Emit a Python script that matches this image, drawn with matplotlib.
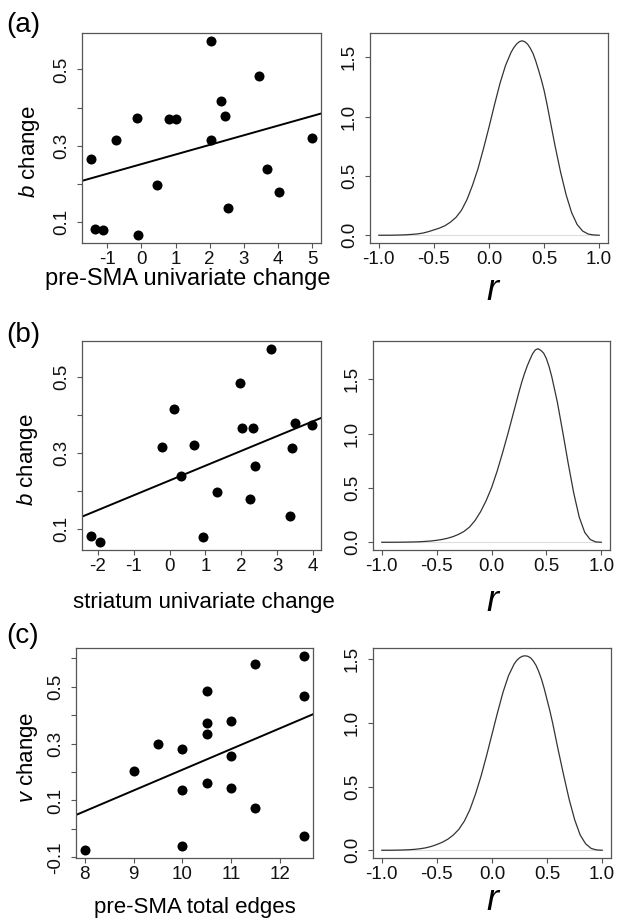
import matplotlib
matplotlib.use("Agg")
import matplotlib.pyplot as plt
import numpy as np

plt.rcParams['font.family'] = ['Liberation Sans', 'DejaVu Sans']
plt.rcParams['axes.unicode_minus'] = False
plt.rcParams['mathtext.fontset'] = 'custom'
plt.rcParams['mathtext.it'] = 'Liberation Sans:italic'
plt.rcParams['mathtext.rm'] = 'Liberation Sans'

# ------------------------------------------------------------------------------
# Data

# (a) pre-SMA univariate change vs b change
a_x = [2.03, 3.43, 2.32, 2.45, -0.14, 0.81, 1.00, -0.74, 2.04, 5.00, -1.48, 3.68, 0.46, 4.03, 2.55, -1.37, -1.12, -0.10]
a_y = [0.575, 0.484, 0.417, 0.379, 0.374, 0.369, 0.369, 0.315, 0.315, 0.321, 0.265, 0.239, 0.198, 0.180, 0.136, 0.082, 0.080, 0.066]

# (b) striatum univariate change vs b change
b_x = [2.82, 1.97, 0.13, 2.02, 2.33, 3.49, 3.97, -0.22, 0.68, 3.41, 0.33, 2.37, 1.32, 2.23, 3.34, 0.93, -2.19, -1.93]
b_y = [0.574, 0.484, 0.416, 0.367, 0.367, 0.379, 0.374, 0.315, 0.321, 0.314, 0.239, 0.266, 0.197, 0.179, 0.135, 0.081, 0.083, 0.066]

# (c) pre-SMA total edges vs v change
c_x = [12.5, 11.5, 12.5, 10.5, 10.5, 11.0, 10.5, 9.5, 10.0, 11.0, 9.0, 10.0, 10.5, 11.0, 11.5, 12.5, 10.0, 8.0]
c_y = [0.609, 0.580, 0.469, 0.484, 0.372, 0.379, 0.333, 0.298, 0.281, 0.255, 0.202, 0.136, 0.161, 0.144, 0.075, -0.026, -0.059, -0.075]

# posterior densities of r
r_grid = [-1.00, -0.95, -0.90, -0.85, -0.80, -0.75, -0.70, -0.65, -0.60, -0.55,
          -0.50, -0.45, -0.40, -0.35, -0.30, -0.25, -0.20, -0.15, -0.10, -0.05,
          0.00, 0.05, 0.10, 0.15, 0.20, 0.225, 0.25, 0.275, 0.30, 0.325, 0.35,
          0.375, 0.40, 0.425, 0.45, 0.475, 0.50, 0.525, 0.55,
          0.60, 0.65, 0.70, 0.75, 0.80, 0.85, 0.90, 0.95, 1.00]
dens_a = [0, 0, 0, 0.001, 0.002, 0.004, 0.007, 0.011, 0.018, 0.030,
          0.045, 0.060, 0.080, 0.110, 0.150, 0.210, 0.300, 0.420, 0.560, 0.730,
          0.910, 1.100, 1.280, 1.430, 1.540, 1.580, 1.610, 1.630, 1.638, 1.630, 1.610,
          1.575, 1.530, 1.465, 1.390, 1.310, 1.220, 1.110, 0.990,
          0.750, 0.530, 0.340, 0.190, 0.090, 0.035, 0.010, 0.002, 0]
dens_b = [0, 0, 0, 0.0005, 0.001, 0.002, 0.003, 0.005, 0.008, 0.012,
          0.018, 0.026, 0.037, 0.052, 0.073, 0.100, 0.140, 0.200, 0.280, 0.380,
          0.500, 0.650, 0.820, 1.000, 1.190, 1.285, 1.380, 1.470, 1.550, 1.620, 1.680,
          1.735, 1.770, 1.780, 1.765, 1.740, 1.690, 1.615, 1.520,
          1.290, 1.010, 0.720, 0.450, 0.230, 0.090, 0.025, 0.003, 0]
dens_c = [0, 0, 0, 0.001, 0.002, 0.004, 0.007, 0.012, 0.019, 0.030,
          0.045, 0.063, 0.087, 0.120, 0.165, 0.230, 0.320, 0.440, 0.580, 0.740,
          0.910, 1.080, 1.240, 1.370, 1.460, 1.490, 1.510, 1.522, 1.526, 1.522, 1.510,
          1.485, 1.450, 1.400, 1.340, 1.265, 1.180, 1.095, 1.000,
          0.790, 0.590, 0.400, 0.240, 0.120, 0.050, 0.014, 0.002, 0]

# ------------------------------------------------------------------------------

W, H = 617, 919
BOX_COL = "#555555"


def px_box(left, right, top, bottom):
  return [left / W, 1 - bottom / H, (right - left) / W, (bottom - top) / H]


def rlim(vals):
  """ R-style axis range: data range padded by 4% """
  lo, hi = min(vals), max(vals)
  pad = 0.04 * (hi - lo)
  return lo - pad, hi + pad


def style_axes(ax):
  for sp in ax.spines.values():
    sp.set_color(BOX_COL)
    sp.set_linewidth(0.9)
  ax.tick_params(direction="out", length=3.8, width=0.8, color=BOX_COL,
                 labelsize=13.5, labelcolor="#111111")
  ax.tick_params(axis="x", pad=2)
  ax.tick_params(axis="y", pad=5)


def set_yticks(ax, ticks, labelled):
  ax.set_yticks(ticks)
  ax.set_yticklabels([("%.1f" % t) if t in labelled else "" for t in ticks],
                     rotation=90, va="center")


def scatter_panel(ax, x, y, xticks, yticks, ylabelled):
  x = np.array(x)
  y = np.array(y)
  ax.scatter(x, y, s=52, color="black", linewidths=0, zorder=3)
  xl = rlim(x)
  ax.set_xlim(xl)
  ax.set_ylim(rlim(y))
  # least squares line, drawn across the whole plot like abline()
  slope, icpt = np.polyfit(x, y, 1)
  xs = np.array(xl)
  ax.plot(xs, icpt + slope * xs, color="black", lw=1.4, zorder=2)
  ax.set_xticks(xticks)
  ax.set_xticklabels([str(t) for t in xticks])
  set_yticks(ax, yticks, ylabelled)
  style_axes(ax)


def density_panel(ax, dens):
  r = np.array(r_grid)
  d = np.array(dens)
  ax.plot([r.min(), r.max()], [0, 0], color="#dddddd", lw=0.8, zorder=1)
  ax.plot(r, d, color="#333333", lw=0.9, zorder=2)
  ax.set_xlim(rlim(r))
  ax.set_ylim(rlim(np.append(d, 0)))
  ax.set_xticks([-1.0, -0.5, 0.0, 0.5, 1.0])
  ax.set_xticklabels(["-1.0", "-0.5", "0.0", "0.5", "1.0"])
  set_yticks(ax, [0.0, 0.5, 1.0, 1.5], [0.0, 0.5, 1.0, 1.5])
  style_axes(ax)


fig = plt.figure(figsize=(W / 100, H / 100), dpi=100)

ax_a1 = fig.add_axes(px_box(82, 321, 33, 243))
ax_a2 = fig.add_axes(px_box(370, 608, 33, 243))
ax_b1 = fig.add_axes(px_box(82, 321, 341, 550))
ax_b2 = fig.add_axes(px_box(373, 610, 341, 550))
ax_c1 = fig.add_axes(px_box(76, 313, 648, 858))
ax_c2 = fig.add_axes(px_box(373, 611, 648, 858))

scatter_panel(ax_a1, a_x, a_y, [-1, 0, 1, 2, 3, 4, 5],
              [0.1, 0.2, 0.3, 0.4, 0.5], [0.1, 0.3, 0.5])
scatter_panel(ax_b1, b_x, b_y, [-2, -1, 0, 1, 2, 3, 4],
              [0.1, 0.2, 0.3, 0.4, 0.5], [0.1, 0.3, 0.5])
scatter_panel(ax_c1, c_x, c_y, [8, 9, 10, 11, 12],
              [-0.1, 0.0, 0.1, 0.2, 0.3, 0.4, 0.5, 0.6], [-0.1, 0.1, 0.3, 0.5])

density_panel(ax_a2, dens_a)
density_panel(ax_b2, dens_b)
density_panel(ax_c2, dens_c)


def ftext(x, y, s, **kw):
  fig.text(x / W, 1 - y / H, s, **kw)


# panel letters
for lbl, yy in [("(a)", 25), ("(b)", 335), ("(c)", 636)]:
  ftext(6, yy, lbl, fontsize=20, ha="left", va="center")

# x labels of the scatter plots
ftext(188, 285, "pre-SMA univariate change", fontsize=17, ha="center", va="baseline")
ftext(204, 608, "striatum univariate change", fontsize=16, ha="center", va="baseline")
ftext(195, 913, "pre-SMA total edges", fontsize=16, ha="center", va="baseline")

# y labels of the scatter plots
ftext(29, 152, r"$\it{b}$ change", fontsize=16, ha="center", va="center", rotation=90)
ftext(27, 460, r"$\it{b}$ change", fontsize=16, ha="center", va="center", rotation=90)
ftext(27, 757, r"$\it{v}$ change", fontsize=16, ha="center", va="center", rotation=90)

# r labels of the density plots
for yy in [300, 611, 910]:
  ftext(492, yy, "r", fontsize=26, style="italic", ha="center", va="baseline")

fig.savefig("out.png", dpi=100)
plt.close(fig)
